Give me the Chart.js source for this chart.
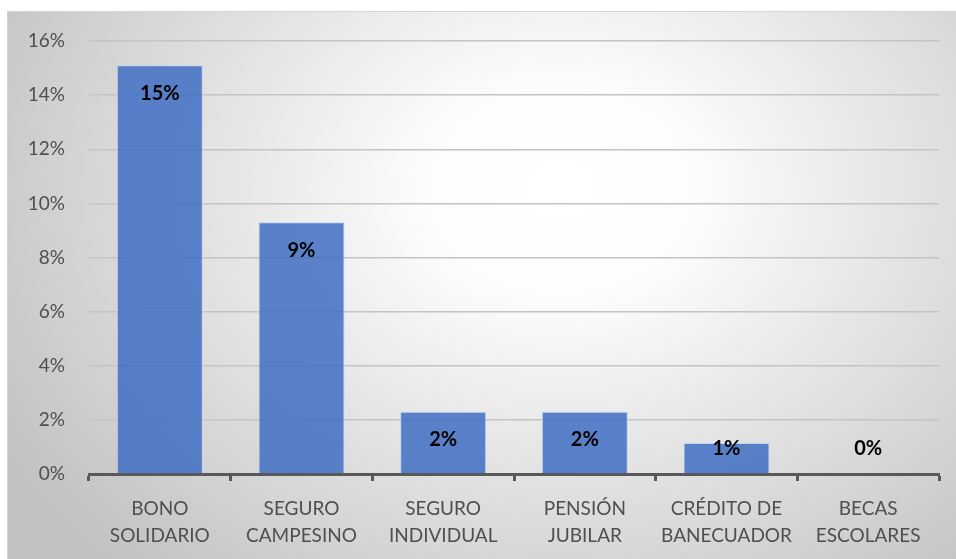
<!DOCTYPE html>
<html>
<head>
<meta charset="utf-8">
<script src="https://cdn.jsdelivr.net/npm/chart.js@4"></script>
<style>
  html, body { margin: 0; padding: 0; background: #fff; }
  #wrap { width: 956px; height: 559px; }
</style>
</head>
<body>
<div id="wrap"><canvas id="myChart" width="956" height="559"></canvas></div>
<script>
const categories = [
  ['BONO', 'SOLIDARIO'],
  ['SEGURO', 'CAMPESINO'],
  ['SEGURO', 'INDIVIDUAL'],
  ['PENSIÓN', 'JUBILAR'],
  ['CRÉDITO DE', 'BANECUADOR'],
  ['BECAS', 'ESCOLARES'],
];
const shares = [0.151, 0.093, 0.023, 0.023, 0.0115, 0];
const yTicks = [0, 0.02, 0.04, 0.06, 0.08, 0.10, 0.12, 0.14, 0.16];

const FONT = 'Lato, "Open Sans", sans-serif';

// background panel with a soft radial gradient
const panelBg = {
  id: 'panelBg',
  beforeDraw(chart) {
    const { ctx, width, height } = chart;
    ctx.save();
    ctx.fillStyle = '#ffffff';
    ctx.fillRect(0, 0, width, height);
    const x0 = 7, y0 = 11;
    ctx.translate(560, 190);
    ctx.scale(1, 0.8);
    const g = ctx.createRadialGradient(0, 0, 0, 0, 0, 640);
    g.addColorStop(0, '#ffffff');
    g.addColorStop(0.2, '#fdfdfd');
    g.addColorStop(1, '#c2c2c2');
    ctx.fillStyle = g;
    ctx.fillRect(x0 - 560, (y0 - 190) / 0.8, width, height / 0.8 + 20);
    ctx.restore();
    ctx.save();
    ctx.strokeStyle = '#d4d4d4';
    ctx.lineWidth = 1;
    ctx.beginPath();
    ctx.moveTo(x0 + 0.5, height);
    ctx.lineTo(x0 + 0.5, y0 + 0.5);
    ctx.lineTo(width, y0 + 0.5);
    ctx.stroke();
    ctx.restore();
  }
};

// value labels, inside end of each bar
const valueLabels = {
  id: 'valueLabels',
  afterDatasetsDraw(chart) {
    const { ctx } = chart;
    const meta = chart.getDatasetMeta(0);
    ctx.save();
    ctx.font = 'bold 20px ' + FONT;
    ctx.fillStyle = '#000000';
    ctx.textAlign = 'center';
    ctx.textBaseline = 'middle';
    meta.data.forEach((bar, i) => {
      const y = Math.min(bar.y + 28, bar.base - 25);
      ctx.fillText(Math.round(shares[i] * 100) + '%', bar.x, y);
    });
    ctx.restore();
  }
};

new Chart(document.getElementById('myChart'), {
  type: 'bar',
  data: {
    labels: categories,
    datasets: [{
      data: shares,
      backgroundColor: 'rgba(64, 110, 195, 0.85)',
      borderColor: 'rgba(190, 210, 240, 0.9)',
      borderWidth: 1,
      barPercentage: 0.607,
      categoryPercentage: 1,
    }],
  },
  options: {
    responsive: false,
    animation: false,
    layout: { padding: { left: 7, top: 41, right: 17, bottom: 0 } },
    plugins: {
      legend: { display: false },
      tooltip: { enabled: false },
    },
    scales: {
      x: {
        afterFit(scale) { scale.height = 85; },
        border: { display: true, color: '#595959', width: 3 },
        grid: {
          offset: true,
          drawOnChartArea: false,
          drawTicks: true,
          tickLength: 7,
          tickWidth: 3,
          tickColor: '#595959',
        },
        ticks: {
          color: '#4f4f4f',
          font: { family: FONT, size: 19, lineHeight: 1.42 },
          padding: 14,
          maxRotation: 0,
          autoSkip: false,
        },
      },
      y: {
        min: 0,
        max: 0.16,
        afterFit(scale) { scale.width = 82; },
        afterBuildTicks(scale) { scale.ticks = yTicks.map(v => ({ value: v })); },
        border: { display: false },
        grid: { color: '#c4c4c4', lineWidth: 1.5, drawTicks: false },
        ticks: {
          color: '#4f4f4f',
          font: { family: FONT, size: 19 },
          padding: 24,
          callback: v => Math.round(v * 100) + '%',
        },
      },
    },
  },
  plugins: [panelBg, valueLabels],
});
</script>
</body>
</html>
